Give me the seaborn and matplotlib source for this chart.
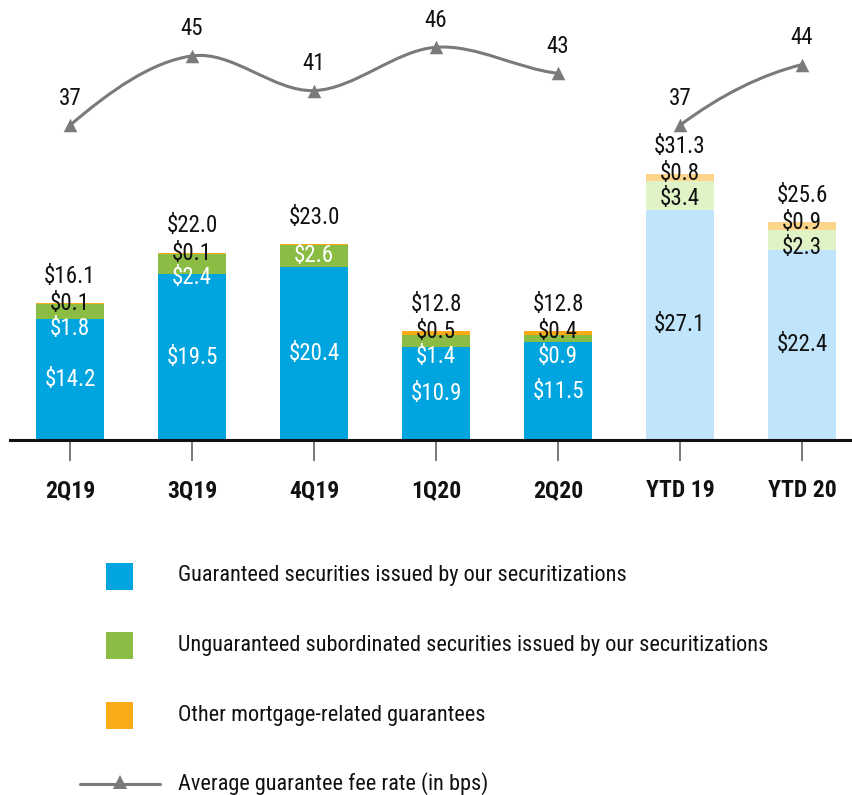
import matplotlib
matplotlib.use("Agg")
import matplotlib.pyplot as plt
from matplotlib.path import Path
from matplotlib.patches import PathPatch, Rectangle
from matplotlib.lines import Line2D
import seaborn as sns
import numpy as np
import pandas as pd

# Donnees (en milliards de $)
periodes = ["2Q19", "3Q19", "4Q19", "1Q20", "2Q20", "YTD 19", "YTD 20"]
garanties = [14.2, 19.5, 20.4, 10.9, 11.5, 27.1, 22.4]
non_garanties = [1.8, 2.4, 2.6, 1.4, 0.9, 3.4, 2.3]
autres = [0.1, 0.1, 0.04, 0.5, 0.4, 0.8, 0.9]
totaux = [16.1, 22.0, 23.0, 12.8, 12.8, 31.3, 25.6]
taux_frais = [37, 45, 41, 46, 43, 37, 44]
groupes = ["trim", "trim", "trim", "trim", "trim", "ytd", "ytd"]

legendes = [
    "Guaranteed securities issued by our securitizations",
    "Unguaranteed subordinated securities issued by our securitizations",
    "Other mortgage-related guarantees",
    "Average guarantee fee rate (in bps)",
]

BLEU, VERT, ORANGE = "#00a5e0", "#8bbd45", "#fbab18"
BLEU_C, VERT_C, ORANGE_C = "#bfe4fc", "#e0f3c6", "#fdd58a"
GRIS = "#7a7a7a"

sns.set_style("white")
plt.rcParams["font.family"] = ["Roboto Condensed", "DejaVu Sans"]
FS = 16.5       # etiquettes de valeurs
FS_LEG = 16     # legende

df = pd.DataFrame({
    "periode": periodes, "garanties": garanties, "non_garanties": non_garanties,
    "autres": autres, "total": totaux, "taux": taux_frais, "groupe": groupes,
})
df["x"] = np.arange(len(df))
ytd = df["groupe"] == "ytd"

W, H = 852, 795
fig = plt.figure(figsize=(W / 100, H / 100), dpi=100)
ax = fig.add_axes([10 / W, 355 / H, 842 / W, 440 / H])

def px(p):
    return p * 0.72  # pixels -> points

# barres empilees
larg = 0.56
c1 = np.where(ytd, BLEU_C, BLEU)
c2 = np.where(ytd, VERT_C, VERT)
c3 = np.where(ytd, ORANGE_C, ORANGE)
b1 = df["garanties"]
b2 = b1 + df["non_garanties"]
ax.bar(df["x"], df["garanties"], width=larg, color=c1, linewidth=0)
ax.bar(df["x"], df["non_garanties"], bottom=b1, width=larg, color=c2, linewidth=0)
ax.bar(df["x"], df["autres"], bottom=b2, width=larg, color=c3, linewidth=0)

for i, r in df.iterrows():
    coul = "#111111" if r["groupe"] == "ytd" else "white"
    haut = r["garanties"] + r["non_garanties"] + r["autres"]
    # valeur bleue
    ax.annotate(f"${r['garanties']:.1f}", (r["x"], r["garanties"] / 2),
                ha="center", va="center", fontsize=FS, color=coul)
    # autres + non garanties
    if r["autres"] >= 0.05:
        ax.annotate(f"${r['autres']:.1f}", (r["x"], haut), ha="center", va="center",
                    fontsize=FS, color="#111111")
        ax.annotate(f"${r['non_garanties']:.1f}", (r["x"], haut), xytext=(0, -px(25)),
                    textcoords="offset points", ha="center", va="center",
                    fontsize=FS, color=coul)
    else:
        ax.annotate(f"${r['non_garanties']:.1f}", (r["x"], r["garanties"] + r["non_garanties"] / 2),
                    ha="center", va="center", fontsize=FS, color=coul)
    # total
    ax.annotate(f"${r['total']:.1f}", (r["x"], haut), xytext=(0, px(27)),
                textcoords="offset points", ha="center", va="center",
                fontsize=FS, color="#111111")

ax.set_xlim(-60 / 122, 782 / 122)
ax.set_ylim(0, 440 / 8.5)
ax.set_xticks(df["x"])
ax.set_xticklabels(df["periode"], fontsize=17, fontweight="bold", color="#111111")
ax.set_yticks([])
ax.tick_params(axis="x", direction="out", length=px(21), width=1.1, color="#555555",
               pad=13, bottom=True)
sns.despine(ax=ax, left=True, top=True, right=True)
ax.spines["bottom"].set_linewidth(2.2)
ax.spines["bottom"].set_color("#111111")
ax.set_xlabel("")
ax.set_ylabel("")

# courbe du taux de commission (axe secondaire)
ax2 = ax.twinx()
ax2.set_ylim(0.7, 0.7 + 440 / 8.67)
ax2.set_yticks([])
for s in ax2.spines.values():
    s.set_visible(False)

for g, sous in df.groupby("groupe", sort=False):
    xs = sous["x"].to_numpy(dtype=float)
    ys = sous["taux"].to_numpy(dtype=float)
    n = len(xs)
    pentes = np.zeros(n)
    for k in range(n):
        if k == 0:
            pentes[k] = 1.5 * (ys[1] - ys[0]) / (xs[1] - xs[0])
        elif k == n - 1:
            pentes[k] = 0.5 * (ys[k] - ys[k - 1]) / (xs[k] - xs[k - 1])
        else:
            pentes[k] = (ys[k + 1] - ys[k - 1]) / (xs[k + 1] - xs[k - 1])
    verts = [(xs[0], ys[0])]
    codes = [Path.MOVETO]
    for k in range(n - 1):
        d = (xs[k + 1] - xs[k]) / 3
        verts += [(xs[k] + d, ys[k] + pentes[k] * d),
                  (xs[k + 1] - d, ys[k + 1] - pentes[k + 1] * d),
                  (xs[k + 1], ys[k + 1])]
        codes += [Path.CURVE4] * 3
    ax2.add_patch(PathPatch(Path(verts, codes), fill=False, edgecolor=GRIS, linewidth=2.2))

sns.scatterplot(data=df, x="x", y="taux", marker="^", s=95, color=GRIS,
                linewidth=0, ax=ax2, zorder=5, legend=False)
for i, r in df.iterrows():
    ax2.annotate(f"{r['taux']}", (r["x"], r["taux"]), xytext=(0, px(27)),
                 textcoords="offset points", ha="center", va="center",
                 fontsize=FS, color="#111111")
ax2.set_xlabel("")
ax2.set_ylabel("")

# legende
def fx(p):
    return p / W

def fy(p):
    return 1 - p / H

for c, yc, txt in zip([BLEU, VERT, ORANGE], [576, 645, 715], legendes[:3]):
    fig.add_artist(Rectangle((fx(106), fy(yc + 13.5)), 27 / W, 27 / H,
                             transform=fig.transFigure, facecolor=c, edgecolor="none"))
    fig.text(fx(178), fy(yc), txt, ha="left", va="center", fontsize=FS_LEG, color="#111111")

fig.add_artist(Line2D([fx(80), fx(160)], [fy(784), fy(784)], transform=fig.transFigure,
                      color=GRIS, linewidth=2.2))
fig.add_artist(Line2D([fx(120)], [fy(782)], transform=fig.transFigure, marker="^",
                      markersize=10, color=GRIS, markeredgewidth=0))
fig.text(fx(178), fy(784), legendes[3], ha="left", va="center", fontsize=FS_LEG, color="#111111")

fig.savefig("out.png", dpi=100)
plt.close()
